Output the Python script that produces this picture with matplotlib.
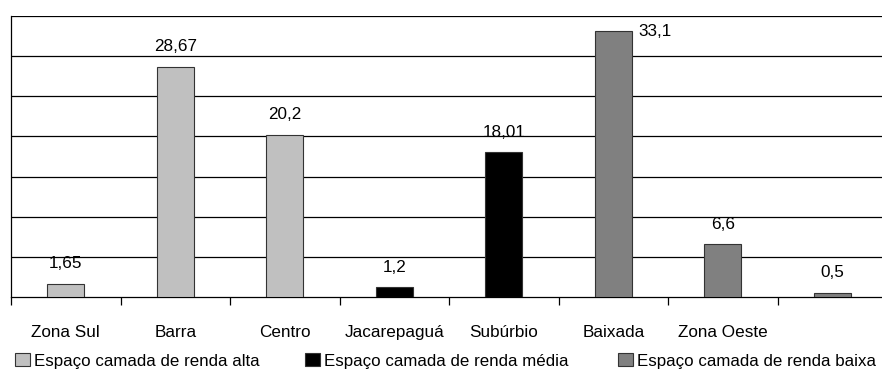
import matplotlib
matplotlib.use("Agg")
import matplotlib.pyplot as plt
from matplotlib.patches import Patch
import numpy as np

plt.rcParams['font.family'] = ['Liberation Sans', 'DejaVu Sans']

categories = ["Zona Sul", "Barra", "Centro", "Jacarepaguá", "Subúrbio",
              "Baixada", "Zona Oeste", ""]
values = [1.65, 28.67, 20.2, 1.2, 18.01, 33.1, 6.6, 0.5]
groups = ["alta", "alta", "alta", "média", "média", "baixa", "baixa", "baixa"]
series_names = {
    "alta": "Espaço camada de renda alta",
    "média": "Espaço camada de renda média",
    "baixa": "Espaço camada de renda baixa",
}
colors = {"alta": "#c0c0c0", "média": "#000000", "baixa": "#808080"}

W, H = 882, 373
fig = plt.figure(figsize=(W / 100, H / 100), dpi=100)
ax = fig.add_axes([11 / W, (H - 297) / H, 876 / W, (297 - 16) / H])

x = np.arange(len(categories))
bar_w = 0.34
ax.bar(x, values, width=bar_w, color=[colors[g] for g in groups],
       edgecolor="#333333", linewidth=0.8, zorder=3)

ax.set_xlim(-0.5, len(categories) - 0.5)
ax.set_ylim(0, 35)
ax.set_yticks(np.arange(5, 36, 5))
ax.yaxis.grid(True, color="#000000", linewidth=0.9)
ax.set_axisbelow(True)
ax.tick_params(axis="y", left=False, labelleft=False)

# category boundaries carry the tick marks, names sit at the centres
ax.set_xticks(np.arange(-0.5, len(categories), 1.0))
ax.set_xticklabels([])
ax.tick_params(axis="x", which="major", direction="out", length=6, width=0.9, color="#000000")
ax.set_xticks(x, minor=True)
ax.set_xticklabels(categories, minor=True, fontsize=12.3)
ax.tick_params(axis="x", which="minor", length=0, pad=20)

for s in ["top", "right"]:
    ax.spines[s].set_visible(False)
for s in ["left", "bottom"]:
    ax.spines[s].set_color("#000000")
    ax.spines[s].set_linewidth(0.9)

for xi, v in zip(x, values):
    lbl = str(v).replace(".", ",")
    if v == max(values):
        ax.annotate(lbl, (xi + bar_w / 2, v), xytext=(5, 0), textcoords="offset points",
                    ha="left", va="center", fontsize=12.3)
    else:
        ax.annotate(lbl, (xi, v), xytext=(0, 9), textcoords="offset points",
                    ha="center", va="bottom", fontsize=12.3)

legend_x = {"alta": 15, "média": 305, "baixa": 618}
for g in ["alta", "média", "baixa"]:
    fig.legend(handles=[Patch(facecolor=colors[g], edgecolor="#333333", linewidth=0.8)],
               labels=[series_names[g]], loc="center left",
               bbox_to_anchor=(legend_x[g] / W, (H - 361) / H),
               frameon=False, fontsize=12.2, handlelength=0.9, handleheight=0.8,
               handletextpad=0.2, borderpad=0, borderaxespad=0)

fig.savefig("out.png", dpi=100)
